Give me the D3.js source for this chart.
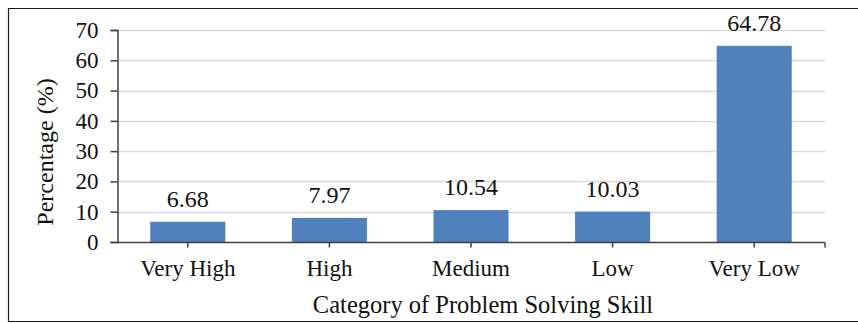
<!DOCTYPE html>
<html>
<head>
<meta charset="utf-8">
<script src="https://cdn.jsdelivr.net/npm/d3@7"></script>
<style>
  html, body { margin: 0; padding: 0; background: #fff; }
  svg { display: block; }
  svg text { font-family: "Liberation Serif", "Times New Roman", serif; }
</style>
</head>
<body>
<svg id="chart" width="858" height="323"></svg>
<script>
// Share of students in each problem-solving skill category
const categories = ["Very High", "High", "Medium", "Low", "Very Low"];
const percentages = [6.68, 7.97, 10.54, 10.03, 64.78];
const yTicks = [0, 10, 20, 30, 40, 50, 60, 70];
const xTitle = "Category of Problem Solving Skill";
const yTitle = "Percentage (%)";

const FONT = "'Liberation Serif', 'Times New Roman', serif";
const svg = d3.select("#chart");
const W = 858;
const plot = { left: 117, right: 825, top: 30, bottom: 242 };

// Frame around the figure
svg.append("path")
  .attr("d", `M${W},8.5 H8.5 V321.5 H${W}`)
  .attr("fill", "none")
  .attr("stroke", "#1a1a1a")
  .attr("stroke-width", 1.2);

const x = d3.scaleBand()
  .domain(categories)
  .range([plot.left, plot.right])
  .paddingInner(0.47)
  .paddingOuter(0.235);

const y = d3.scaleLinear()
  .domain([0, 70])
  .range([plot.bottom, plot.top]);

// Horizontal gridlines
svg.append("g")
  .selectAll("line")
  .data(yTicks.filter(d => d > 0))
  .join("line")
  .attr("x1", plot.left)
  .attr("x2", plot.right)
  .attr("y1", d => Math.round(y(d)) + 0.5)
  .attr("y2", d => Math.round(y(d)) + 0.5)
  .attr("stroke", "#d9d9d9")
  .attr("stroke-width", 1.5);

// Bars
svg.append("g")
  .selectAll("rect")
  .data(percentages)
  .join("rect")
  .attr("x", (d, i) => x(categories[i]))
  .attr("width", x.bandwidth())
  .attr("y", d => y(d))
  .attr("height", d => y(0) - y(d))
  .attr("fill", "#4f81bd");

// Value labels above bars
svg.append("g")
  .selectAll("text")
  .data(percentages)
  .join("text")
  .attr("x", (d, i) => x(categories[i]) + x.bandwidth() / 2)
  .attr("y", d => y(d) - 15)
  .attr("text-anchor", "middle")
  .attr("font-family", FONT)
  .attr("font-size", 24)
  .attr("fill", "#111")
  .text(d => d.toFixed(2));

// Y axis
const yAxis = d3.axisLeft(y)
  .tickValues(yTicks)
  .tickSize(7)
  .tickPadding(12)
  .tickFormat(d3.format("d"));
const gy = svg.append("g")
  .attr("transform", `translate(${plot.left + 0.5},0)`)
  .call(yAxis)
  .attr("font-family", FONT);
gy.select(".domain").attr("stroke", "#404040").attr("stroke-width", 1.5);
gy.selectAll(".tick line").attr("stroke", "#404040").attr("stroke-width", 1.5);
gy.selectAll(".tick text")
  .attr("font-size", 23)
  .attr("font-family", FONT)
  .attr("fill", "#111");

// X axis with ticks under each category and at the end
const gx = svg.append("g")
  .attr("transform", `translate(0,${plot.bottom + 0.5})`);
gx.append("line")
  .attr("x1", plot.left)
  .attr("x2", plot.right)
  .attr("stroke", "#404040")
  .attr("stroke-width", 1.5);
const xTickPos = categories.map(c => x(c) + x.bandwidth() / 2).concat([plot.right]);
gx.selectAll("line.tk")
  .data(xTickPos)
  .join("line")
  .attr("class", "tk")
  .attr("x1", d => d)
  .attr("x2", d => d)
  .attr("y1", 0)
  .attr("y2", 5)
  .attr("stroke", "#404040")
  .attr("stroke-width", 1.5);
gx.selectAll("text")
  .data(categories)
  .join("text")
  .attr("x", d => x(d) + x.bandwidth() / 2)
  .attr("y", 33)
  .attr("text-anchor", "middle")
  .attr("font-family", FONT)
  .attr("font-size", 23)
  .attr("fill", "#111")
  .text(d => d);

// Axis titles
svg.append("text")
  .attr("x", 483)
  .attr("y", 313)
  .attr("text-anchor", "middle")
  .attr("font-family", FONT)
  .attr("font-size", 24.5)
  .attr("fill", "#111")
  .text(xTitle);

svg.append("text")
  .attr("transform", `translate(53,152) rotate(-90)`)
  .attr("text-anchor", "middle")
  .attr("font-family", FONT)
  .attr("font-size", 24)
  .attr("fill", "#111")
  .text(yTitle);
</script>
</body>
</html>
